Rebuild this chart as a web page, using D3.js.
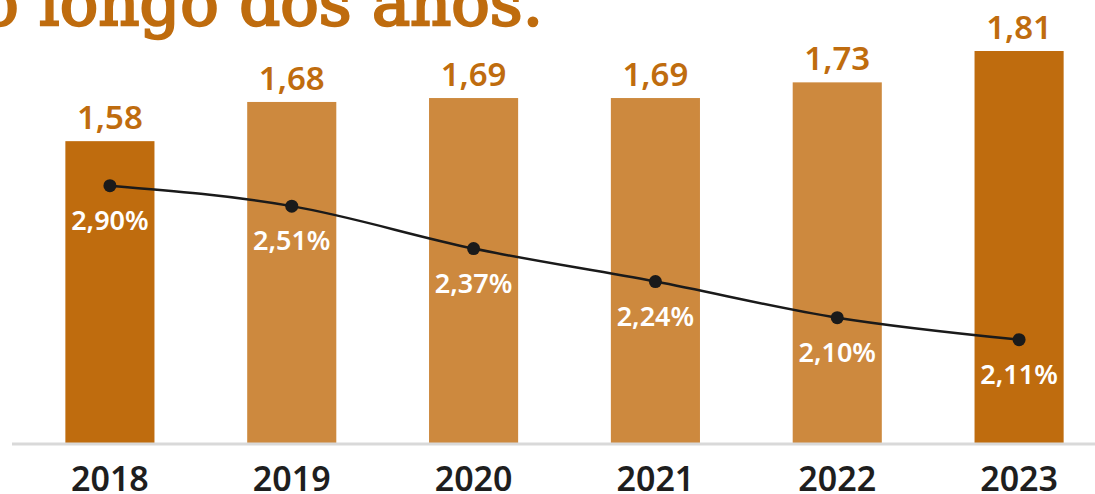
<!DOCTYPE html>
<html>
<head>
<meta charset="utf-8">
<script src="https://cdn.jsdelivr.net/npm/d3@7"></script>
<style>
  html, body { margin: 0; padding: 0; background: #fff; }
  svg { display: block; }
</style>
</head>
<body>
<svg id="chart" width="1095" height="494"></svg>
<script>
// dados
const anos = ["2018", "2019", "2020", "2021", "2022", "2023"];
const valores = [1.58, 1.68, 1.69, 1.69, 1.73, 1.81];
const valorLabels = ["1,58", "1,68", "1,69", "1,69", "1,73", "1,81"];
const destaque = [true, false, false, false, false, true];
// a linha não segue a escala das taxas, posições estimadas em unidade própria
const linha = [2.90, 2.77, 2.50, 2.29, 2.06, 1.92];
const taxaLabels = ["2,90%", "2,51%", "2,37%", "2,24%", "2,10%", "2,11%"];

const W = 1095, H = 494;
const base = 443;
const laranja = "#bf6c0e";
const laranjaClaro = "#cd893e";

const svg = d3.select("#chart");

// titulo cortado no topo
svg.append("text")
    .attr("x", 543)
    .attr("y", 25)
    .attr("text-anchor", "end")
    .attr("font-family", "DejaVu Serif")
    .attr("font-size", 64)
    .attr("fill", laranja)
    .attr("stroke", laranja)
    .attr("stroke-width", 2.4)
    .text("Evolução ao longo dos anos.");

const x = d3.scaleBand()
    .domain(anos)
    .range([19, 1110])
    .paddingInner(0.51)
    .paddingOuter(0.255);

const y = d3.scaleLinear()
    .domain([0.81, 1.81])
    .range([base, 51]);

const yLinha = d3.scaleLinear()
    .domain([1.6, 3.0])
    .range([390, 170]);

const cx = d => x(d) + x.bandwidth() / 2;

// barras
svg.selectAll("rect.bar")
    .data(valores)
    .enter()
    .append("rect")
    .attr("class", "bar")
    .attr("x", (d, i) => x(anos[i]))
    .attr("y", d => y(d))
    .attr("width", x.bandwidth())
    .attr("height", d => base - y(d))
    .attr("fill", (d, i) => destaque[i] ? laranja : laranjaClaro);

// valores em cima das barras
svg.selectAll("text.valor")
    .data(valores)
    .enter()
    .append("text")
    .attr("class", "valor")
    .attr("x", (d, i) => cx(anos[i]))
    .attr("y", d => y(d) - 12)
    .attr("text-anchor", "middle")
    .attr("font-family", "Noto Sans")
    .attr("font-weight", 600)
    .attr("font-size", 33)
    .attr("fill", laranja)
    .text((d, i) => valorLabels[i]);

// eixo
svg.append("line")
    .attr("x1", 12)
    .attr("x2", W)
    .attr("y1", base + 1)
    .attr("y2", base + 1)
    .attr("stroke", "#d9d9d9")
    .attr("stroke-width", 3);

const xAxis = svg.append("g")
    .attr("transform", `translate(0,${base})`)
    .call(d3.axisBottom(x).tickSize(0).tickPadding(0));
xAxis.select(".domain").remove();
xAxis.selectAll("text")
    .attr("y", 48)
    .attr("dy", 0)
    .attr("font-family", "Noto Sans")
    .attr("font-weight", 600)
    .attr("font-size", 34)
    .attr("fill", "#1e1e1e");

// linha
const line = d3.line()
    .x((d, i) => cx(anos[i]))
    .y(d => yLinha(d))
    .curve(d3.curveMonotoneX);

svg.append("path")
    .datum(linha)
    .attr("d", line)
    .attr("fill", "none")
    .attr("stroke", "#1a1a1a")
    .attr("stroke-width", 2.5);

svg.selectAll("circle.ponto")
    .data(linha)
    .enter()
    .append("circle")
    .attr("class", "ponto")
    .attr("cx", (d, i) => cx(anos[i]))
    .attr("cy", d => yLinha(d))
    .attr("r", 6.5)
    .attr("fill", "#1a1a1a");

svg.selectAll("text.taxa")
    .data(linha)
    .enter()
    .append("text")
    .attr("class", "taxa")
    .attr("x", (d, i) => cx(anos[i]))
    .attr("y", d => yLinha(d) + 44)
    .attr("text-anchor", "middle")
    .attr("font-family", "Noto Sans")
    .attr("font-weight", 600)
    .attr("font-size", 27)
    .attr("fill", "#fff")
    .text((d, i) => taxaLabels[i]);
</script>
</body>
</html>
